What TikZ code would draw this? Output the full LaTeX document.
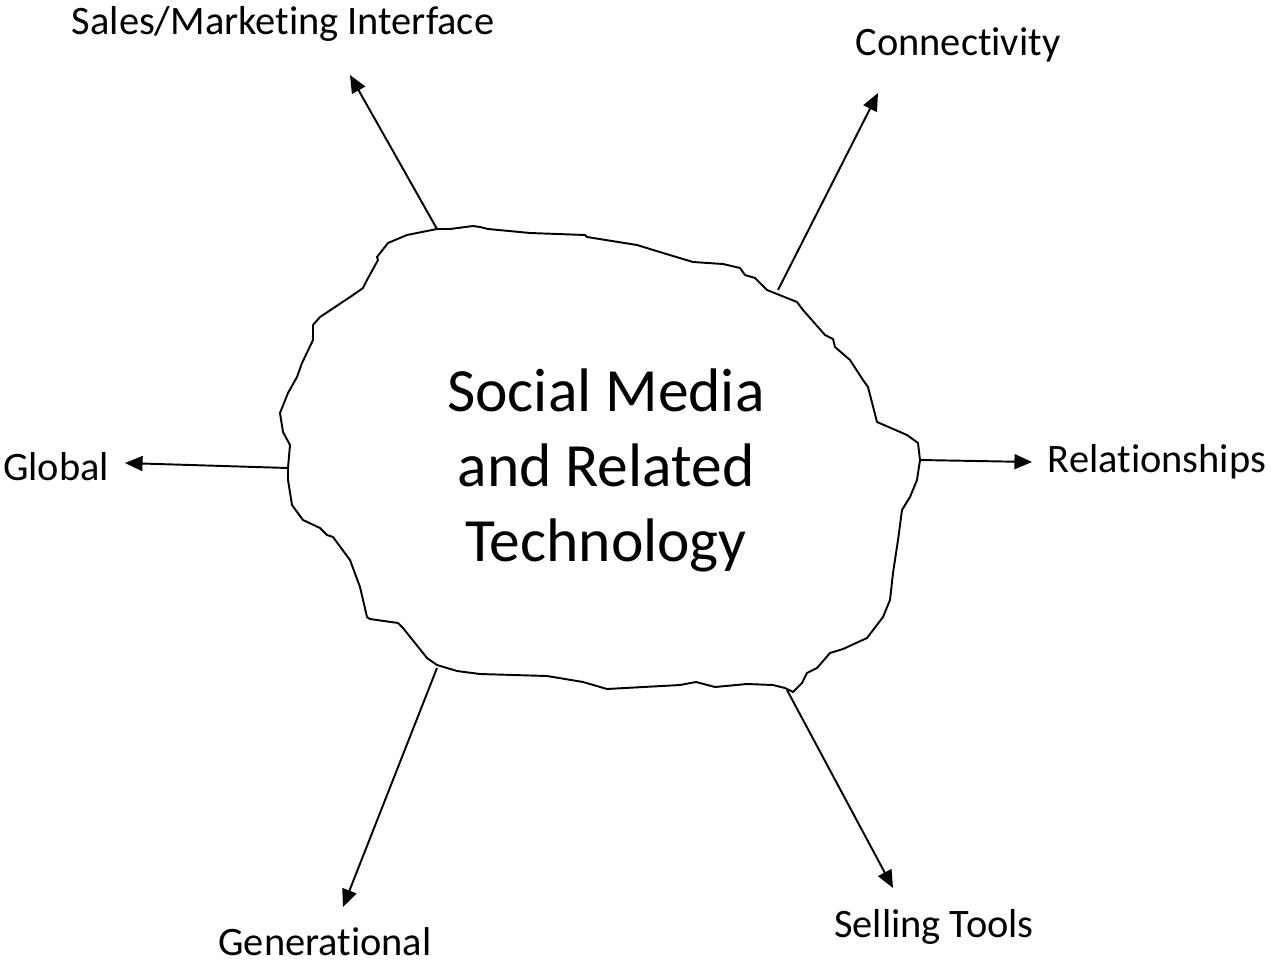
\documentclass[tikz,border=0pt]{standalone}
\usepackage{fontspec}
\setmainfont{Carlito}[Ligatures=NoCommon]
\usetikzlibrary{arrows.meta}

\begin{document}
\begin{tikzpicture}[x=0.02cm,y=-0.02cm,line width=1.1pt,
  every node/.style={font=\fontsize{23}{28}\selectfont},
  spoke/.style={-{Triangle[length=10pt,width=8.5pt]}}]

  \useasboundingbox (0,0) rectangle (1275,967);

  % Rough outline round the middle
  \draw[line join=round] (437,229) -- (450,229) -- (473,226) -- (480,227) -- (488,229)
    -- (530,233) -- (585,235) -- (587,237) -- (637,245) -- (663,253) -- (683,259)
    -- (693,262) -- (723,264) -- (740,268) -- (745,275) -- (755,278) -- (767,290)
    -- (797,302) -- (803,310) -- (825,335) -- (833,339) -- (835,347) -- (850,360)
    -- (863,380) -- (868,387) -- (877,422) -- (907,435) -- (918,443) -- (920,460)
    -- (917,480) -- (910,497) -- (902,510) -- (898,540) -- (893,573) -- (890,600)
    -- (883,617) -- (867,638) -- (843,649) -- (830,653) -- (817,668) -- (807,673)
    -- (802,683) -- (793,692) -- (785,688) -- (773,685) -- (747,684) -- (715,687)
    -- (696,682) -- (680,685) -- (607,689) -- (583,682) -- (547,676) -- (480,674)
    -- (457,671) -- (437,665) -- (427,658) -- (403,628) -- (398,623) -- (370,619)
    -- (367,617) -- (360,587) -- (350,560) -- (333,537) -- (327,535) -- (320,528)
    -- (303,520) -- (292,505) -- (288,480) -- (288,468) -- (290,445) -- (283,432)
    -- (280,413) -- (288,393) -- (297,377) -- (302,363) -- (313,340) -- (313,325)
    -- (320,317) -- (353,295) -- (363,288) -- (367,280) -- (378,260) -- (377,257)
    -- (388,243) -- (407,235) -- cycle;

  % Title in the middle
  \node[align=center,font=\fontsize{35}{42.7}\selectfont] (core) at (606,470)
    {Social Media\\and Related\\Technology};

  % Labels round the outline
  \node[anchor=base] (sales) at (283,34) {Sales/Marketing Interface};
  \node[anchor=base] (conn) at (958,55) {Connectivity};
  \node[anchor=base] (rel) at (1157,472) {Relationships};
  \node[anchor=base] (glob) at (56,480) {Global};
  \node[anchor=base] (gen) at (325,955) {Generational};
  \node[anchor=base] (sell) at (934,937) {Selling Tools};

  % Points where the spokes leave the outline
  \coordinate (salesFoot) at (437,229);
  \coordinate (connFoot) at (778,290);
  \coordinate (relFoot) at (920,460);
  \coordinate (globFoot) at (288,468);
  \coordinate (genFoot) at (437,668);
  \coordinate (sellFoot) at (787,690);

  % Tips of the spokes
  \coordinate (salesTip) at (350,75);
  \coordinate (connTip) at (878,93);
  \coordinate (relTip) at (1032,462);
  \coordinate (globTip) at (125,463);
  \coordinate (genTip) at (343,907);
  \coordinate (sellTip) at (893,888);

  % Spokes
  \draw[spoke] (salesFoot) -- (salesTip);
  \draw[spoke] (connFoot) -- (connTip);
  \draw[spoke] (relFoot) -- (relTip);
  \draw[spoke] (globFoot) -- (globTip);
  \draw[spoke] (genFoot) -- (genTip);
  \draw[spoke] (sellFoot) -- (sellTip);

\end{tikzpicture}
\end{document}
